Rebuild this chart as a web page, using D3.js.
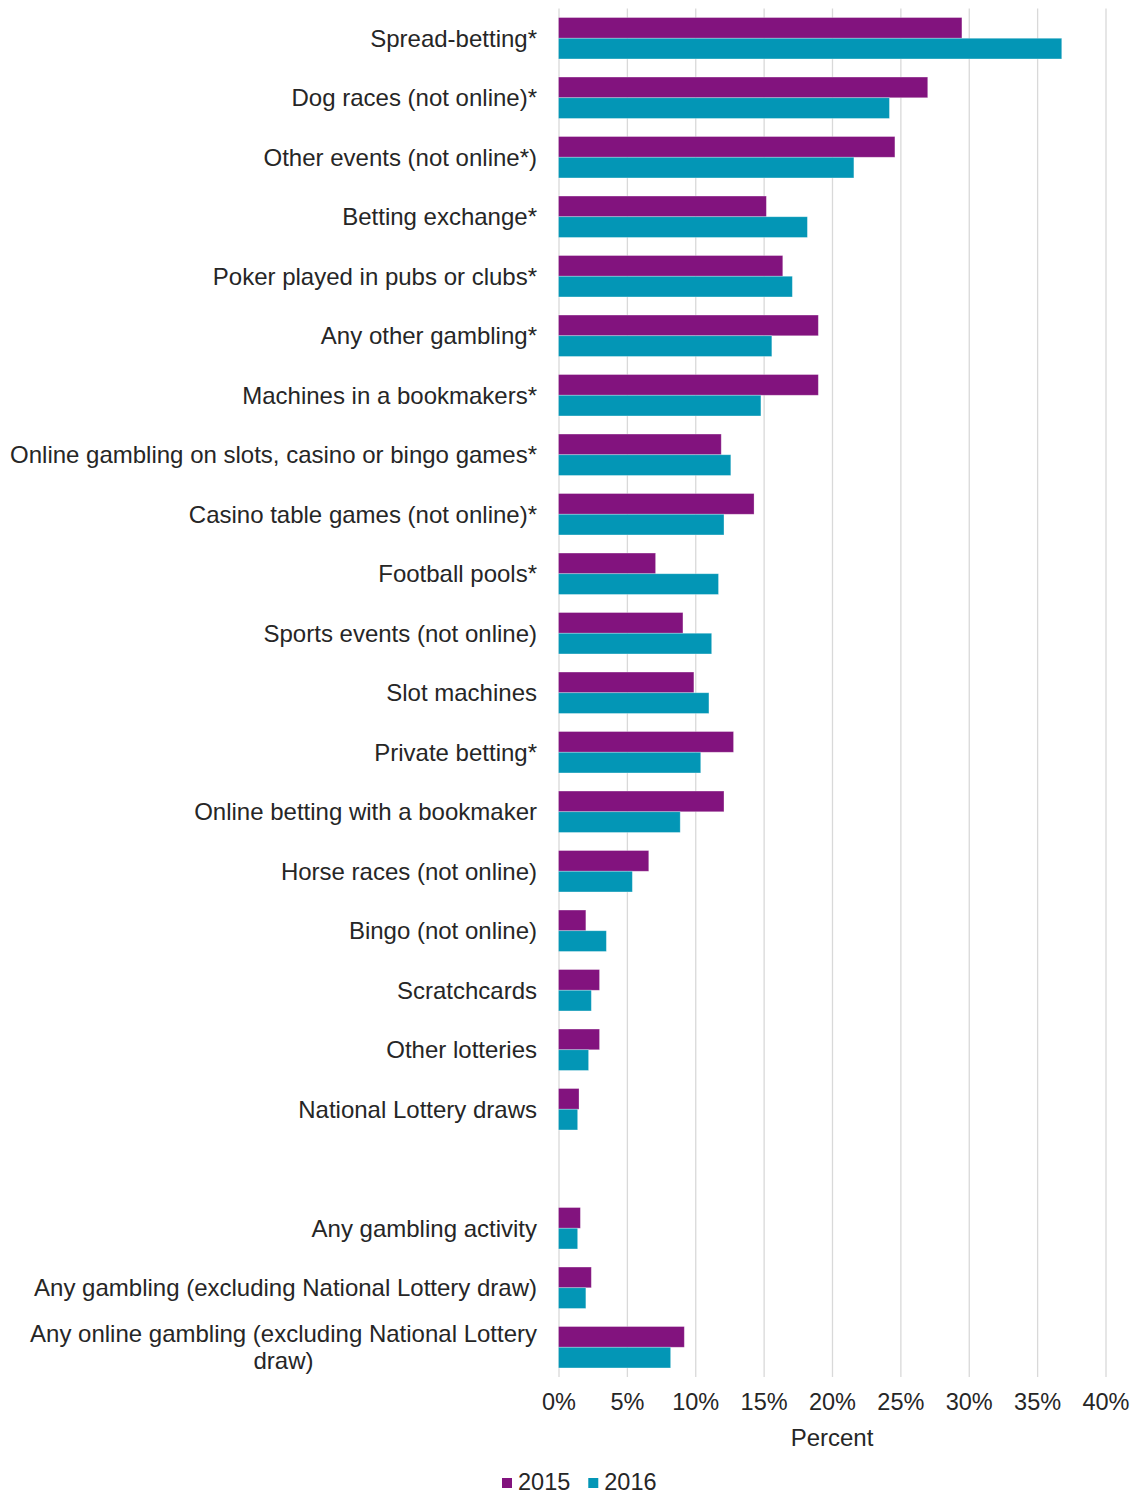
<!DOCTYPE html>
<html>
<head>
<meta charset="utf-8">
<script src="https://cdn.jsdelivr.net/npm/d3@7"></script>
<style>
  body { margin: 0; background: #fff; }
  svg { display: block; }
  text { font-family: "Liberation Sans", Arial, sans-serif; fill: #262626; }
</style>
</head>
<body>
<svg id="chart" width="1134" height="1496"></svg>
<script>
// Gambling activities; the empty entry leaves a gap before the summary rows
const categories = [
  "Spread-betting*",
  "Dog races (not online)*",
  "Other events (not online*)",
  "Betting exchange*",
  "Poker played in pubs or clubs*",
  "Any other gambling*",
  "Machines in a bookmakers*",
  "Online gambling on slots, casino or bingo games*",
  "Casino table games (not online)*",
  "Football pools*",
  "Sports events (not online)",
  "Slot machines",
  "Private betting*",
  "Online betting with a bookmaker",
  "Horse races (not online)",
  "Bingo (not online)",
  "Scratchcards",
  "Other lotteries",
  "National Lottery draws",
  "",
  "Any gambling activity",
  "Any gambling (excluding National Lottery draw)",
  "Any online gambling (excluding National Lottery draw)"
];

// Percent values per year (null = spacer row)
const values2015 = [29.5, 27.0, 24.6, 15.2, 16.4, 19.0, 19.0, 11.9, 14.3, 7.1, 9.1, 9.9, 12.8, 12.1, 6.6, 2.0, 3.0, 3.0, 1.5, null, 1.6, 2.4, 9.2];
const values2016 = [36.8, 24.2, 21.6, 18.2, 17.1, 15.6, 14.8, 12.6, 12.1, 11.7, 11.2, 11.0, 10.4, 8.9, 5.4, 3.5, 2.4, 2.2, 1.4, null, 1.4, 2.0, 8.2];

const seriesNames = ["2015", "2016"];
const seriesColors = ["#82137E", "#0396B6"];
const xTicks = [0, 5, 10, 15, 20, 25, 30, 35, 40];
const xTitle = "Percent";

const svg = d3.select("#chart");
const plotLeft = 558.5, plotRight = 1105.5, plotTop = 8.5, plotBottom = 1377;
const labelFont = 24;
const tickFont = 23.5;

const x = d3.scaleLinear().domain([0, 40]).range([plotLeft, plotRight]);
const y = d3.scaleBand()
  .domain(d3.range(categories.length))
  .range([plotTop, plotBottom])
  .paddingInner(0.304)
  .paddingOuter(0.152);
const ySub = d3.scaleBand().domain(seriesNames).range([0, y.bandwidth()]);

// Vertical gridlines
svg.append("g")
  .attr("transform", `translate(0,${plotBottom})`)
  .call(d3.axisBottom(x).tickValues(xTicks).tickSize(-(plotBottom - plotTop)).tickFormat(""))
  .call(g => g.select(".domain").remove())
  .call(g => g.selectAll(".tick line").attr("stroke", "#d9d9d9").attr("stroke-width", 1.3));

// Tick labels
svg.append("g")
  .attr("transform", `translate(0,${plotBottom})`)
  .call(d3.axisBottom(x).tickValues(xTicks).tickSize(0).tickPadding(16).tickFormat(d => d + "%"))
  .call(g => g.select(".domain").remove())
  .call(g => g.selectAll(".tick text")
    .attr("font-size", tickFont)
    .attr("font-family", null)
    .attr("fill", "#262626"));

// Bars
const rows = categories.map((c, i) => ({ i, c, vals: [values2015[i], values2016[i]] }));
const groups = svg.append("g").selectAll("g")
  .data(rows.filter(r => r.c !== ""))
  .join("g")
  .attr("transform", r => `translate(0,${y(r.i)})`);

groups.selectAll("rect")
  .data(r => r.vals.map((v, k) => ({ v, k })))
  .join("rect")
  .attr("x", x(0))
  .attr("y", d => ySub(seriesNames[d.k]))
  .attr("width", d => x(d.v) - x(0))
  .attr("height", ySub.bandwidth())
  .attr("fill", d => seriesColors[d.k])
  .attr("stroke", "rgba(255,255,255,0.35)")
  .attr("stroke-width", 0.8);

// Category labels (right aligned; the longest one wraps onto a centred second line)
const labelRight = 537;
const labels = svg.append("g").attr("font-size", labelFont);
rows.filter(r => r.c !== "").forEach(r => {
  const cy = y(r.i) + y.bandwidth() / 2;
  if (r.c.startsWith("Any online gambling")) {
    const line1 = r.c.replace(/ draw\)$/, "");
    const line2 = "draw)";
    const probe = labels.append("text").text(line1);
    const w = probe.node().getComputedTextLength();
    probe.remove();
    const lh = 27;
    const cx = labelRight - w / 2;
    const tt = labels.append("text").attr("text-anchor", "middle");
    tt.append("tspan").attr("x", cx).attr("y", cy - lh / 2).attr("dy", "0.35em").text(line1);
    tt.append("tspan").attr("x", cx).attr("y", cy + lh / 2).attr("dy", "0.35em").text(line2);
  } else {
    labels.append("text")
      .attr("x", labelRight)
      .attr("y", cy)
      .attr("dy", "0.35em")
      .attr("text-anchor", "end")
      .text(r.c);
  }
});

// Axis title
svg.append("text")
  .attr("x", (plotLeft + plotRight) / 2)
  .attr("y", 1438)
  .attr("dy", "0.35em")
  .attr("text-anchor", "middle")
  .attr("font-size", labelFont)
  .text(xTitle);

// Legend
const legend = svg.append("g").attr("transform", "translate(502,1482)");
let lx = 0;
seriesNames.forEach((name, k) => {
  legend.append("rect")
    .attr("x", lx).attr("y", -4).attr("width", 10).attr("height", 10)
    .attr("fill", seriesColors[k]);
  const t = legend.append("text")
    .attr("x", lx + 16).attr("y", 0).attr("dy", "0.35em")
    .attr("font-size", tickFont)
    .text(name);
  lx += 16 + t.node().getComputedTextLength() + 18;
});
</script>
</body>
</html>
